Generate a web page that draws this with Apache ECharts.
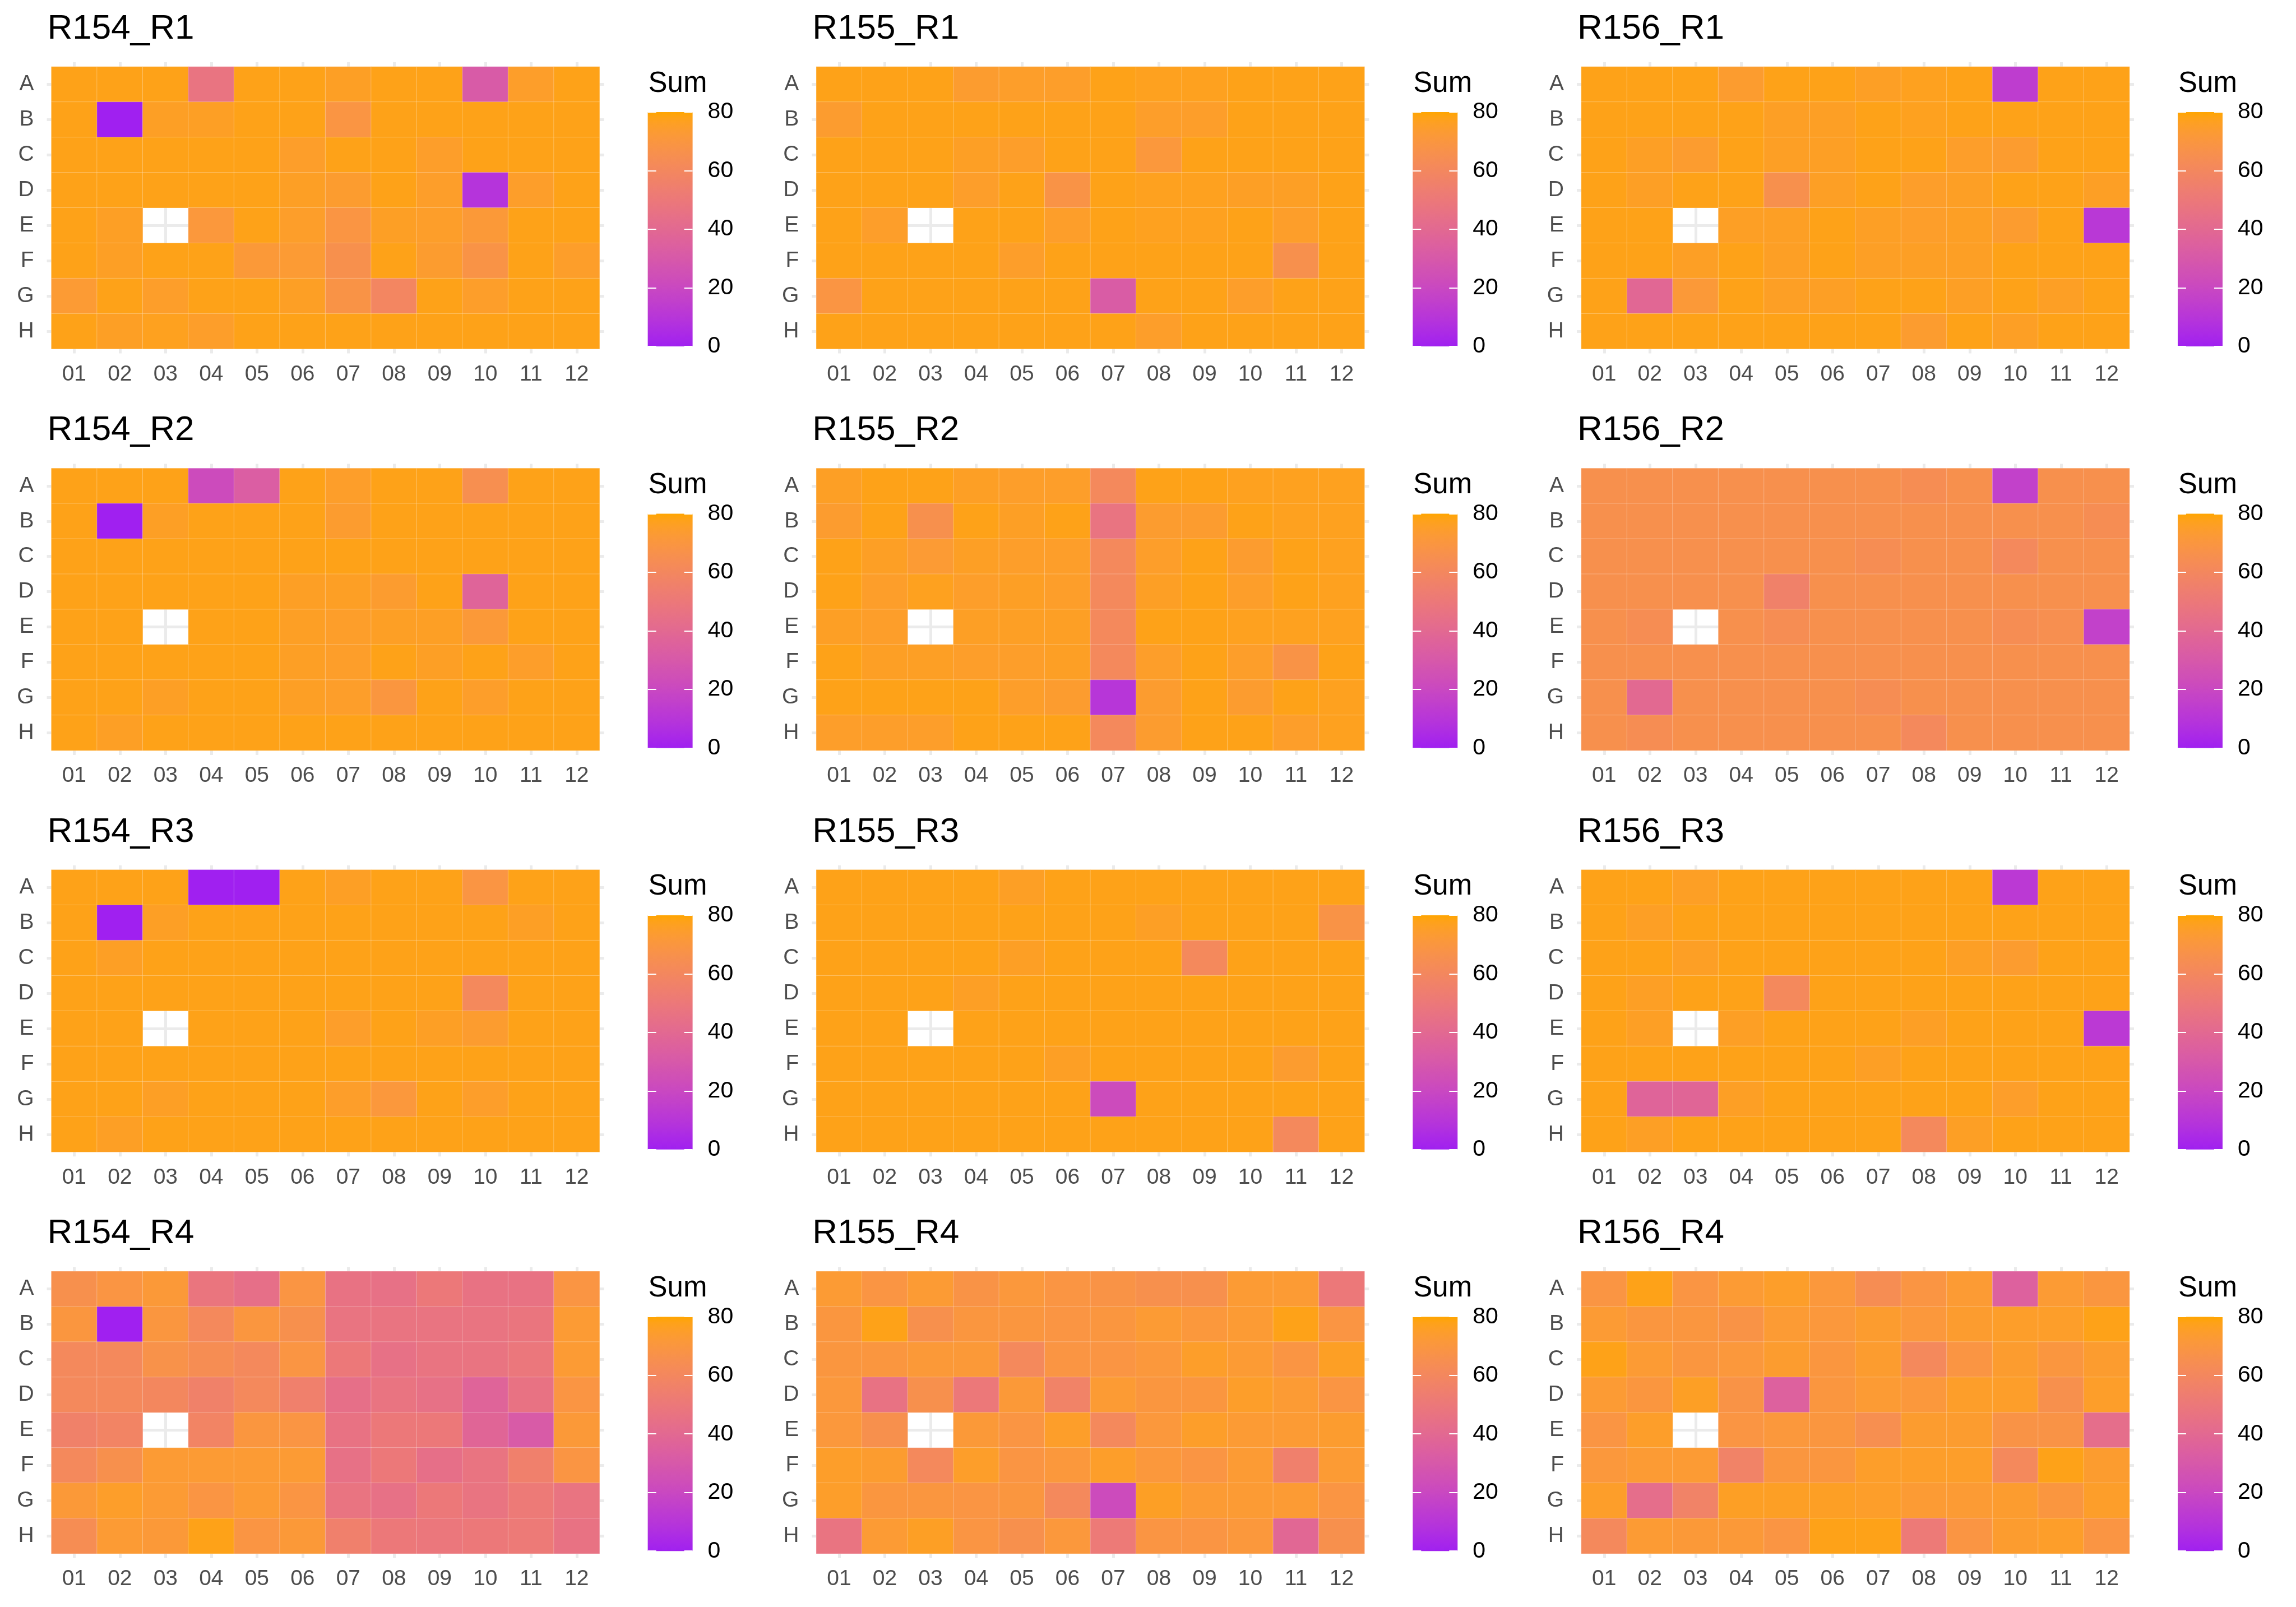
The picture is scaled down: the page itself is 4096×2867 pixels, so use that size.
<!DOCTYPE html>
<html>
<head>
<meta charset="utf-8">
<script src="https://cdn.jsdelivr.net/npm/echarts@6/dist/echarts.min.js"></script>
<style>
html,body{margin:0;padding:0;background:#fff;}
#chart{width:4096px;height:2867px;}
</style>
</head>
<body>
<div id="chart"></div>
<script>
// ---------------- data ----------------
const COLS = ['01','02','03','04','05','06','07','08','09','10','11','12'];
const ROWS = ['A','B','C','D','E','F','G','H'];
const LEGEND_TICKS = [0, 20, 40, 60, 80];
const LEGEND_MAX = 80;
const LEGEND_TITLE = 'Sum';

const R154_R1 = [
  [78,78,78,47,78,78,76,78,78,31,75,78],
  [78,0,76,76,78,78,69,78,78,78,78,78],
  [78,78,78,78,78,75,78,78,75,78,78,78],
  [78,78,78,78,78,76,74,78,75,9,75,78],
  [78,76,null,71,78,75,69,76,75,72,78,78],
  [78,76,78,78,72,73,66,78,74,68,78,75],
  [73,78,75,78,78,76,68,59,78,75,78,78],
  [78,76,77,75,78,78,78,78,78,78,78,78]
];
const R155_R1 = [
  [78,78,78,74,75,75,78,77,77,78,78,78],
  [74,78,78,78,78,78,78,75,75,78,78,78],
  [78,78,78,76,75,78,78,71,78,78,78,78],
  [78,78,78,75,78,68,78,77,77,76,76,78],
  [78,75,null,78,78,75,78,77,77,78,75,78],
  [78,78,78,78,75,78,78,78,78,78,66,78],
  [69,78,78,78,78,78,32,78,78,75,78,78],
  [78,78,78,78,78,78,78,75,78,78,78,78]
];
const R156_R1 = [
  [78,78,78,74,78,78,76,77,78,14,78,78],
  [78,78,78,78,76,76,78,77,78,78,78,78],
  [78,76,74,78,76,76,78,78,75,74,78,78],
  [78,76,78,78,66,76,78,75,76,78,78,76],
  [78,78,null,76,76,78,76,75,76,74,78,11],
  [78,78,76,78,76,78,76,76,76,78,78,78],
  [78,39,72,78,76,76,78,78,76,78,76,78],
  [78,78,78,78,78,78,78,74,78,76,78,78]
];
const R154_R2 = [
  [78,78,78,22,33,78,75,78,78,65,78,78],
  [78,0,76,78,78,78,74,78,78,78,78,78],
  [78,78,78,78,78,78,78,78,78,78,78,78],
  [78,78,78,78,78,76,76,74,78,37,78,78],
  [78,78,null,78,78,76,75,76,76,72,78,78],
  [78,78,78,78,78,76,75,78,76,78,75,78],
  [78,78,76,78,78,76,75,70,78,75,78,78],
  [78,76,78,78,78,78,78,78,78,78,78,78]
];
const R155_R2 = [
  [76,78,78,76,75,75,61,78,78,77,77,77],
  [74,78,66,78,76,78,47,74,74,78,77,77],
  [78,76,73,76,75,75,61,75,78,74,78,77],
  [78,75,77,75,76,75,61,76,78,75,78,77],
  [76,75,null,76,76,76,61,78,78,77,77,77],
  [78,76,76,75,75,76,61,75,78,75,68,78],
  [78,78,78,78,75,74,10,74,78,74,78,77],
  [75,75,75,78,78,78,61,74,78,78,75,77]
];
const R156_R2 = [
  [66,66,66,66,66,66,66,64,66,16,66,66],
  [66,66,66,66,66,66,66,66,66,66,66,64],
  [66,66,66,66,66,66,64,66,66,61,66,66],
  [66,66,66,66,56,66,66,66,66,66,66,66],
  [66,64,null,66,64,66,66,66,66,64,65,16],
  [66,66,66,66,66,66,66,66,66,66,66,66],
  [66,40,66,66,66,66,64,66,66,66,66,66],
  [66,64,66,66,66,66,66,61,66,66,66,66]
];
const R154_R3 = [
  [78,78,78,0,0,78,76,78,78,69,78,78],
  [78,0,76,78,78,78,78,78,78,78,76,78],
  [78,76,78,78,78,78,78,78,78,78,78,78],
  [78,78,78,78,78,78,78,78,78,61,78,78],
  [78,78,null,78,78,78,75,78,76,74,78,78],
  [78,78,78,78,78,78,78,78,78,78,78,78],
  [78,78,76,78,78,78,75,71,78,75,78,78],
  [78,76,78,78,78,78,78,78,78,78,78,78]
];
const R155_R3 = [
  [78,78,78,78,76,78,78,78,78,78,78,78],
  [78,78,78,78,78,78,78,76,78,78,78,68],
  [78,78,78,78,76,78,78,78,61,78,78,78],
  [78,78,78,76,78,78,78,78,78,78,78,78],
  [78,78,null,78,78,78,78,78,78,78,78,78],
  [78,78,78,78,78,76,78,78,78,78,74,78],
  [78,78,78,78,78,78,22,78,78,78,78,78],
  [78,78,78,78,78,78,78,78,78,78,61,78]
];
const R156_R3 = [
  [78,78,76,78,78,78,78,78,78,12,78,78],
  [78,76,78,78,78,78,78,78,78,78,78,78],
  [78,78,76,78,78,78,78,78,76,74,78,78],
  [78,76,78,78,61,78,78,78,78,78,78,78],
  [78,76,null,76,78,78,78,76,78,78,78,12],
  [78,78,78,78,78,78,76,78,78,78,78,78],
  [78,37,38,76,78,78,78,78,78,75,78,78],
  [78,76,78,78,78,78,78,61,76,78,78,78]
];
const R154_R4 = [
  [66,69,72,48,44,69,46,45,50,46,46,69],
  [70,0,70,61,70,66,47,47,47,47,48,73],
  [61,61,67,64,61,69,50,45,47,47,49,73],
  [61,61,60,56,61,55,44,47,45,37,46,69],
  [56,58,null,58,70,69,46,50,50,38,31,72],
  [61,66,73,73,73,73,45,50,44,47,55,69],
  [72,75,73,69,73,69,47,45,50,47,51,47],
  [64,73,72,78,69,72,55,50,49,50,51,46]
];
const R155_R4 = [
  [73,69,73,68,71,69,68,66,66,73,73,50],
  [70,78,66,70,70,69,70,73,71,73,78,69],
  [70,70,72,72,61,69,69,71,75,73,69,76],
  [71,46,66,50,72,57,73,70,70,75,73,69],
  [71,66,null,72,69,75,61,71,75,73,73,74],
  [75,74,61,75,69,71,75,71,69,73,55,73],
  [75,70,70,69,70,61,22,76,73,73,73,69],
  [47,73,76,69,66,71,51,69,69,71,39,66]
];
const R156_R4 = [
  [69,78,69,73,75,71,64,69,73,35,73,70],
  [73,70,70,68,73,71,74,71,74,75,75,78],
  [78,73,70,71,74,70,74,61,69,74,70,74],
  [73,70,76,68,35,70,73,71,75,75,66,75],
  [69,75,null,69,71,70,65,74,74,68,68,43],
  [71,73,73,57,70,70,75,75,75,61,78,74],
  [75,43,57,76,76,76,75,73,73,74,70,75],
  [61,73,72,72,69,78,78,51,69,74,75,69]
];

const PANELS = [
  {name:'R154_R1', values:R154_R1}, {name:'R155_R1', values:R155_R1}, {name:'R156_R1', values:R156_R1},
  {name:'R154_R2', values:R154_R2}, {name:'R155_R2', values:R155_R2}, {name:'R156_R2', values:R156_R2},
  {name:'R154_R3', values:R154_R3}, {name:'R155_R3', values:R155_R3}, {name:'R156_R3', values:R156_R3},
  {name:'R154_R4', values:R154_R4}, {name:'R155_R4', values:R155_R4}, {name:'R156_R4', values:R156_R4}
];

// ---------------- colour ramp (CIELAB, like ggplot2 scale_fill_gradient) ----------------
const LOW = '#A020F0', HIGH = '#FFA500';
function hex2rgb(h){return [parseInt(h.slice(1,3),16),parseInt(h.slice(3,5),16),parseInt(h.slice(5,7),16)];}
function s2l(c){c/=255; return c<=0.04045? c/12.92 : Math.pow((c+0.055)/1.055,2.4);}
function l2s(c){c=Math.max(0,Math.min(1,c)); c = c<=0.0031308? 12.92*c : 1.055*Math.pow(c,1/2.4)-0.055; return Math.max(0,Math.min(255,Math.round(c*255)));}
function rgb2lab(rgb){
  const r=s2l(rgb[0]), g=s2l(rgb[1]), b=s2l(rgb[2]);
  const X=(0.4124564*r+0.3575761*g+0.1804375*b)/0.95047;
  const Y=(0.2126729*r+0.7151522*g+0.0721750*b);
  const Z=(0.0193339*r+0.1191920*g+0.9503041*b)/1.08883;
  const f=t=> t>0.008856? Math.cbrt(t) : 7.787*t+16/116;
  const fx=f(X),fy=f(Y),fz=f(Z);
  return [116*fy-16, 500*(fx-fy), 200*(fy-fz)];
}
function lab2rgb(lab){
  const fy=(lab[0]+16)/116, fx=fy+lab[1]/500, fz=fy-lab[2]/200;
  const finv=t=> t*t*t>0.008856? t*t*t : (t-16/116)/7.787;
  const X=finv(fx)*0.95047, Y=finv(fy), Z=finv(fz)*1.08883;
  const r=3.2404542*X-1.5371385*Y-0.4985314*Z;
  const g=-0.9692660*X+1.8760108*Y+0.0415560*Z;
  const b=0.0556434*X-0.2040259*Y+1.0572252*Z;
  return 'rgb('+l2s(r)+','+l2s(g)+','+l2s(b)+')';
}
const labLo = rgb2lab(hex2rgb(LOW)), labHi = rgb2lab(hex2rgb(HIGH));
const NSTEP = 41;
const RAMP = [];
for (let k=0;k<NSTEP;k++){
  const t=k/(NSTEP-1);
  RAMP.push(lab2rgb([0,1,2].map(j=>labLo[j]+(labHi[j]-labLo[j])*t)));
}

// ---------------- layout ----------------
const FONT = '"Liberation Sans", Arial, Helvetica, sans-serif';
const X0 = 91.6, DX = 1364.7, Y0 = 119, DY = 716.4;
const HM_W = 978, HM_H = 503.5;
const LEG_DX = 1064, LEG_DY = 81, LEG_W = 80, LEG_H = 418;
const GRID_COL = '#EBEBEB';
const AXIS_FS = 39, LEG_FS = 41, TITLE_FS = 62, LEGTITLE_FS = 51;

const grids=[], xAxes=[], yAxes=[], series=[], titles=[];
const nP = PANELS.length;

PANELS.forEach((p,i)=>{
  const r=Math.floor(i/3), c=i%3;
  const left = X0 + c*DX, top = Y0 + r*DY;
  grids.push({left:left, top:top, width:HM_W, height:HM_H, containLabel:false});
  const stub = {show:true, alignWithLabel:true, length:8, lineStyle:{color:GRID_COL, width:5}};
  const split = {show:true, alignWithLabel:true, lineStyle:{color:GRID_COL, width:5}};
  xAxes.push({gridIndex:i, type:'category', data:COLS, position:'bottom',
    axisLine:{show:false}, axisTick:stub, splitLine:split,
    axisLabel:{margin:26, fontSize:AXIS_FS, color:'#4D4D4D', fontFamily:FONT}});
  xAxes.push({gridIndex:i, type:'category', data:COLS, position:'top',
    axisLine:{show:false}, axisTick:stub, axisLabel:{show:false}, splitLine:{show:false}});
  yAxes.push({gridIndex:i, type:'category', data:ROWS, inverse:true, position:'left',
    axisLine:{show:false}, axisTick:stub, splitLine:split,
    axisLabel:{margin:31, fontSize:AXIS_FS, color:'#4D4D4D', fontFamily:FONT}});
  yAxes.push({gridIndex:i, type:'category', data:ROWS, inverse:true, position:'right',
    axisLine:{show:false}, axisTick:stub, axisLabel:{show:false}, splitLine:{show:false}});
  const data=[];
  p.values.forEach((row,ri)=>row.forEach((v,ci)=>{ data.push([ci, ri, v==null ? '-' : v]); }));
  series.push({type:'heatmap', name:p.name, xAxisIndex:2*i, yAxisIndex:2*i, data:data,
    itemStyle:{borderColor:'rgba(255,255,255,0.28)', borderWidth:1},
    emphasis:{disabled:true}, silent:true, progressive:0});
  titles.push({text:p.name, left:left-7, top:top-98, padding:0,
    textStyle:{fontSize:TITLE_FS, fontWeight:'normal', color:'#000', fontFamily:FONT}});
  titles.push({text:LEGEND_TITLE, left:left+LEG_DX+1, top:top+5, padding:0,
    textStyle:{fontSize:LEGTITLE_FS, fontWeight:'normal', color:'#000', fontFamily:FONT}});
});

const gradient = {type:'linear', x:0, y:1, x2:0, y2:0,
  colorStops: RAMP.map((col,k)=>({offset:k/(NSTEP-1), color:col}))};

PANELS.forEach((p,i)=>{
  const r=Math.floor(i/3), c=i%3;
  const left = X0 + c*DX + LEG_DX, top = Y0 + r*DY + LEG_DY;
  const gi = nP + i;
  grids.push({left:left, top:top, width:LEG_W, height:LEG_H, containLabel:false});
  const xi = xAxes.length;
  xAxes.push({gridIndex:gi, type:'category', data:[LEGEND_TITLE], show:false});
  const yi = yAxes.length;
  const tick = {show:true, inside:true, length:15, lineStyle:{color:'#FFFFFF', width:2}};
  yAxes.push({gridIndex:gi, type:'value', min:LEGEND_TICKS[0], max:LEGEND_MAX, interval:20, position:'right', z:10,
    axisLine:{show:false}, axisTick:tick, splitLine:{show:false},
    axisLabel:{margin:27, fontSize:LEG_FS, color:'#000', fontFamily:FONT}});
  yAxes.push({gridIndex:gi, type:'value', min:LEGEND_TICKS[0], max:LEGEND_MAX, interval:20, position:'left', z:10,
    axisLine:{show:false}, axisTick:tick, splitLine:{show:false}, axisLabel:{show:false}});
  series.push({type:'bar', xAxisIndex:xi, yAxisIndex:yi, data:[LEGEND_MAX], barWidth:'100%',
    itemStyle:{color:gradient}, silent:true});
});

const chart = echarts.init(document.getElementById('chart'), null, {renderer:'canvas'});
chart.setOption({
  backgroundColor:'#FFFFFF',
  animation:false,
  textStyle:{fontFamily:FONT},
  title:titles,
  grid:grids,
  xAxis:xAxes,
  yAxis:yAxes,
  visualMap:[{type:'continuous', show:false, min:0, max:LEGEND_MAX,
    seriesIndex:PANELS.map((p,i)=>i), inRange:{color:RAMP}}],
  series:series
});
</script>
</body>
</html>
